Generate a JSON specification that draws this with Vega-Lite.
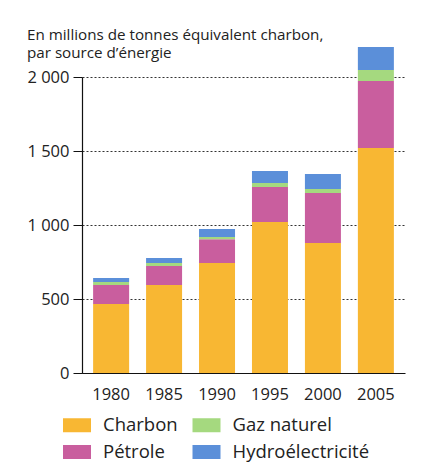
{
  "$schema": "https://vega.github.io/schema/vega-lite/v6.json",
  "autosize": "none",
  "width": 323,
  "height": 296,
  "padding": {"left": 82, "top": 77, "right": 17, "bottom": 95},
  "background": "#ffffff",
  "config": {
    "font": "Open Sans",
    "view": {"stroke": null},
    "axis": {"labelFont": "Open Sans", "labelColor": "#222222"}
  },
  "title": {
    "text": ["En millions de tonnes équivalent charbon,", "par source d’énergie"],
    "anchor": "start",
    "frame": "group",
    "dx": -55,
    "offset": -14,
    "fontSize": 15.2,
    "fontWeight": "normal",
    "color": "#222222",
    "lineHeight": 17.5,
    "font": "Open Sans"
  },
  "data": {
    "values": [
      {"annee": "1980", "source": "Charbon", "rang": 1, "valeur": 466},
      {"annee": "1980", "source": "Pétrole", "rang": 2, "valeur": 129},
      {"annee": "1980", "source": "Gaz naturel", "rang": 3, "valeur": 20},
      {"annee": "1980", "source": "Hydroélectricité", "rang": 4, "valeur": 27},
      {"annee": "1985", "source": "Charbon", "rang": 1, "valeur": 595},
      {"annee": "1985", "source": "Pétrole", "rang": 2, "valeur": 128},
      {"annee": "1985", "source": "Gaz naturel", "rang": 3, "valeur": 20},
      {"annee": "1985", "source": "Hydroélectricité", "rang": 4, "valeur": 34},
      {"annee": "1990", "source": "Charbon", "rang": 1, "valeur": 743},
      {"annee": "1990", "source": "Pétrole", "rang": 2, "valeur": 160},
      {"annee": "1990", "source": "Gaz naturel", "rang": 3, "valeur": 16},
      {"annee": "1990", "source": "Hydroélectricité", "rang": 4, "valeur": 54},
      {"annee": "1995", "source": "Charbon", "rang": 1, "valeur": 1020},
      {"annee": "1995", "source": "Pétrole", "rang": 2, "valeur": 237},
      {"annee": "1995", "source": "Gaz naturel", "rang": 3, "valeur": 27},
      {"annee": "1995", "source": "Hydroélectricité", "rang": 4, "valeur": 81},
      {"annee": "2000", "source": "Charbon", "rang": 1, "valeur": 878},
      {"annee": "2000", "source": "Pétrole", "rang": 2, "valeur": 338},
      {"annee": "2000", "source": "Gaz naturel", "rang": 3, "valeur": 27},
      {"annee": "2000", "source": "Hydroélectricité", "rang": 4, "valeur": 102},
      {"annee": "2005", "source": "Charbon", "rang": 1, "valeur": 1520},
      {"annee": "2005", "source": "Pétrole", "rang": 2, "valeur": 453},
      {"annee": "2005", "source": "Gaz naturel", "rang": 3, "valeur": 74},
      {"annee": "2005", "source": "Hydroélectricité", "rang": 4, "valeur": 156}
    ]
  },
  "mark": {"type": "bar"},
  "encoding": {
    "x": {
      "field": "annee",
      "type": "ordinal",
      "scale": {"paddingInner": 0.32, "paddingOuter": 0.21},
      "axis": {
        "title": null,
        "labelAngle": 0,
        "labelFontSize": 16.5,
        "labelPadding": 13,
        "ticks": false,
        "domainColor": "#111111",
        "domainWidth": 1.2
      }
    },
    "y": {
      "field": "valeur",
      "type": "quantitative",
      "aggregate": "sum",
      "stack": "zero",
      "scale": {"domain": [0, 2000], "nice": false},
      "axis": {
        "title": null,
        "values": [0, 500, 1000, 1500, 2000],
        "labelExpr": "replace(format(datum.value, ','), ',', ' ')",
        "labelFontSize": 16.5,
        "labelPadding": 4,
        "tickSize": 9,
        "tickColor": "#111111",
        "domainColor": "#111111",
        "domainWidth": 1.2,
        "grid": true,
        "gridDash": [2, 2],
        "gridColor": "#333333",
        "gridWidth": 1
      }
    },
    "color": {
      "field": "source",
      "type": "nominal",
      "scale": {
        "domain": ["Charbon", "Pétrole", "Gaz naturel", "Hydroélectricité"],
        "range": ["#F8B733", "#C95E9E", "#A5D97F", "#5B8FD9"]
      },
      "legend": {
        "title": null,
        "orient": "none",
        "legendX": -19,
        "legendY": 334,
        "columns": 2,
        "columnPadding": 14.5,
        "rowPadding": 3,
        "symbolType": "M-1,-0.5H1V0.5H-1Z",
        "symbolSize": 784,
        "symbolStrokeWidth": 0,
        "labelFontSize": 18.5,
        "labelOffset": 12,
        "labelColor": "#222222",
        "labelFont": "Open Sans"
      }
    },
    "order": {"field": "rang", "type": "quantitative"}
  }
}
